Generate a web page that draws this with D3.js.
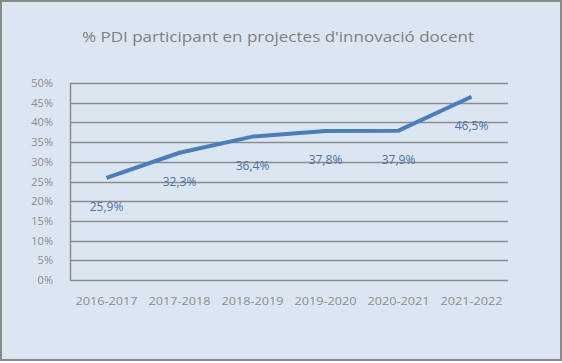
<!DOCTYPE html>
<html>
<head>
<meta charset="utf-8">
<script src="https://cdn.jsdelivr.net/npm/d3@7"></script>
<style>
  body { margin: 0; background: #fff; }
  svg { display: block; }
</style>
</head>
<body>
<div id="chart"></div>
<script>
const title = "% PDI participant en projectes d'innovació docent";
const categories = ['2016-2017', '2017-2018', '2018-2019', '2019-2020', '2020-2021', '2021-2022'];
const values = [25.9, 32.3, 36.4, 37.8, 37.9, 46.5];
const yTicks = [0, 5, 10, 15, 20, 25, 30, 35, 40, 45, 50];

const width = 562;
const height = 363;
const margin = { top: 83, right: 54, bottom: 83, left: 70 };

// Colours.
const bg = '#dce6f2';
const grey = '#8c8c8c';
const lineBlue = '#4a7ebb';
const labelBlue = '#4f72a8';

const svg = d3.select('#chart')
  .append('svg')
  .attr('width', width)
  .attr('height', height);

svg.append('rect')
  .attr('x', 1)
  .attr('y', 1)
  .attr('width', width - 2)
  .attr('height', height - 4)
  .attr('fill', bg)
  .attr('stroke', '#8a8a8a')
  .attr('stroke-width', 2);

svg.append('text')
  .attr('x', 278)
  .attr('y', 42)
  .attr('text-anchor', 'middle')
  .attr('fill', '#808080')
  .style('font-family', 'Open Sans, sans-serif')
  .style('font-size', '14px')
  .attr('textLength', 392)
  .attr('lengthAdjust', 'spacingAndGlyphs')
  .text(title);

const x = d3.scaleBand()
  .domain(categories)
  .range([margin.left, width - margin.right]);

const y = d3.scaleLinear()
  .domain([0, 50])
  .range([height - margin.bottom, margin.top]);

// Gridlines.
svg.append('g')
  .selectAll('line')
  .data(yTicks)
  .join('line')
  .attr('x1', margin.left)
  .attr('x2', width - margin.right)
  .attr('y1', d => Math.round(y(d)) + 0.5)
  .attr('y2', d => Math.round(y(d)) + 0.5)
  .attr('stroke', grey)
  .attr('stroke-width', 1.5);

svg.append('line')
  .attr('x1', margin.left + 0.5)
  .attr('x2', margin.left + 0.5)
  .attr('y1', Math.round(y(50)))
  .attr('y2', Math.round(y(0)) + 1)
  .attr('stroke', grey)
  .attr('stroke-width', 1.5);

// Y tick labels.
svg.append('g')
  .selectAll('text')
  .data(yTicks)
  .join('text')
  .attr('x', 53)
  .attr('y', d => y(d) + 4)
  .attr('text-anchor', 'end')
  .attr('fill', grey)
  .style('font-family', 'Open Sans, sans-serif')
  .style('font-size', '11px')
  .text(d => d + '%');

// X labels.
svg.append('g')
  .selectAll('text')
  .data(categories)
  .join('text')
  .attr('x', d => x(d) + x.bandwidth() / 2)
  .attr('y', 305)
  .attr('text-anchor', 'middle')
  .attr('fill', grey)
  .style('font-family', 'Open Sans, sans-serif')
  .style('font-size', '10px')
  .attr('textLength', 62)
  .attr('lengthAdjust', 'spacingAndGlyphs')
  .text(d => d);

// Series line.
const line = d3.line()
  .x((d, i) => x(categories[i]) + x.bandwidth() / 2)
  .y(d => y(d));

svg.append('path')
  .datum(values)
  .attr('d', line)
  .attr('fill', 'none')
  .attr('stroke', lineBlue)
  .attr('stroke-width', 4)
  .attr('stroke-linejoin', 'round');

// Data labels below the points.
svg.append('g')
  .selectAll('text')
  .data(values)
  .join('text')
  .attr('x', (d, i) => x(categories[i]) + x.bandwidth() / 2)
  .attr('y', d => y(d) + 33)
  .attr('text-anchor', 'middle')
  .attr('fill', labelBlue)
  .style('font-family', 'Open Sans, sans-serif')
  .style('font-size', '12px')
  .text(d => d.toFixed(1).replace('.', ',') + '%');
</script>
</body>
</html>
